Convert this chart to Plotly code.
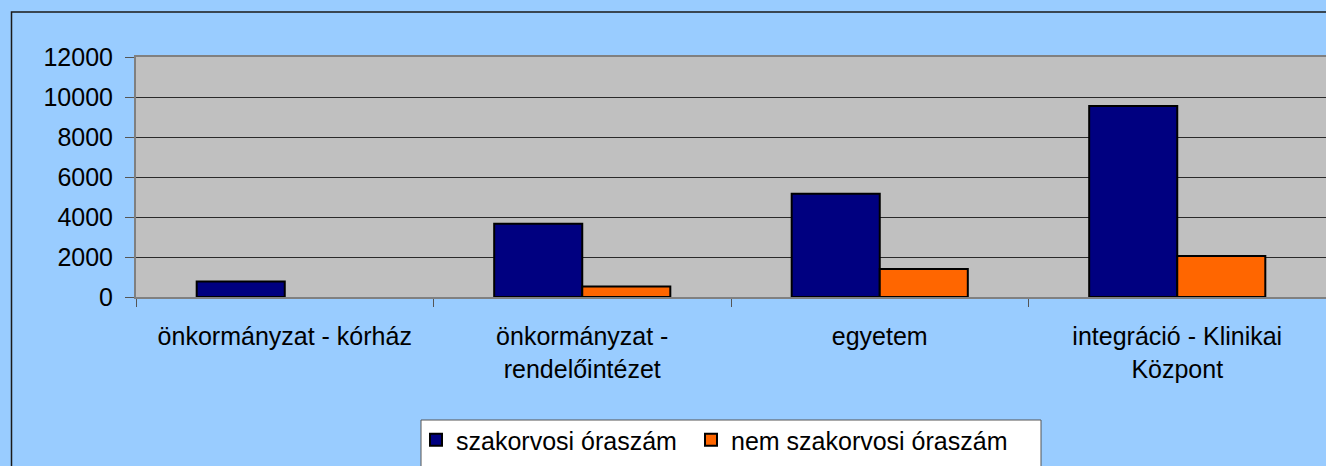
import plotly.graph_objects as go

categories = ["önkormányzat - kórház", "önkormányzat - rendelőintézet", "egyetem", "integráció - Klinikai Központ"]
tick_labels = ["önkormányzat - kórház", "önkormányzat -<br>rendelőintézet", "egyetem", "integráció - Klinikai<br>Központ"]
szakorvosi = [780, 3660, 5160, 9550]
nem_szakorvosi = [None, 530, 1400, 2050]
series_names = ["szakorvosi óraszám", "nem szakorvosi óraszám"]
y_ticks = [0, 2000, 4000, 6000, 8000, 10000, 12000]

W, H = 1326, 466
L, R, T, B = 136, 0, 57, 169
pw, ph = W - L - R, H - T - B

def px_to_paper_x(x):
    return (x - L) / pw

def px_to_paper_y(y):
    return (H - B - y) / ph

fig = go.Figure()
fig.add_trace(go.Bar(x=categories, y=szakorvosi, name=series_names[0], legend="legend",
                     marker=dict(color="#000080", line=dict(color="black", width=2))))
fig.add_trace(go.Bar(x=categories, y=nem_szakorvosi, name=series_names[1], legend="legend2",
                     marker=dict(color="#FF6600", line=dict(color="black", width=2))))

font = "Liberation Sans, Arial, sans-serif"
fs = 25

legend_common = dict(orientation="h", xanchor="left",
                     y=px_to_paper_y(417), yanchor="top",
                     bgcolor="rgba(0,0,0,0)", borderwidth=0,
                     font=dict(family=font, size=fs, color="black"),
                     itemwidth=30)

fig.update_layout(
    width=W, height=H,
    margin=dict(l=L, r=R, t=T, b=B, pad=0),
    paper_bgcolor="#99CCFF",
    plot_bgcolor="#C0C0C0",
    barmode="group",
    bargap=0.408,
    bargroupgap=0,
    font=dict(family=font, size=fs, color="black"),
    legend=dict(x=px_to_paper_x(416), **legend_common),
    legend2=dict(x=px_to_paper_x(691), **legend_common),
    showlegend=True,
)

fig.update_xaxes(
    type="category",
    tickvals=categories, ticktext=tick_labels,
    range=[-0.5, 3.5],
    tickson="boundaries", ticks="outside", ticklen=8, tickcolor="#555555", tickwidth=1,
    showline=True, linecolor="#808080", linewidth=2, mirror=True,
    showgrid=False, automargin=False,
    tickfont=dict(family=font, size=fs, color="black"),
    ticklabelstandoff=16,
)
fig.update_yaxes(
    range=[0, 12000], tickvals=y_ticks, tickformat="d",
    ticks="outside", ticklen=9, tickcolor="#555555", tickwidth=1,
    showline=True, linecolor="#808080", linewidth=2, mirror=True,
    showgrid=True, gridcolor="#2a2a2a", gridwidth=1,
    zeroline=False, automargin=False,
    tickfont=dict(family=font, size=fs, color="black"),
    ticklabelstandoff=7,
)

# legend box
fig.add_shape(type="rect", xref="paper", yref="paper",
              x0=px_to_paper_x(421), y0=px_to_paper_y(420), x1=px_to_paper_x(1041), y1=px_to_paper_y(H + 20),
              line=dict(color="#555555", width=1), fillcolor="white", layer="above")
# outer chart border
fig.add_shape(type="rect", xref="paper", yref="paper",
              x0=px_to_paper_x(11.5), y0=px_to_paper_y(12), x1=px_to_paper_x(W + 20), y1=px_to_paper_y(H + 20),
              line=dict(color="#1a1a1a", width=1.5), fillcolor="rgba(0,0,0,0)", layer="above")

fig.write_html("out.html",
               config={"displayModeBar": False},
               post_script="document.body.style.margin='0';document.body.style.overflow='hidden';document.body.style.background='#99CCFF';")
